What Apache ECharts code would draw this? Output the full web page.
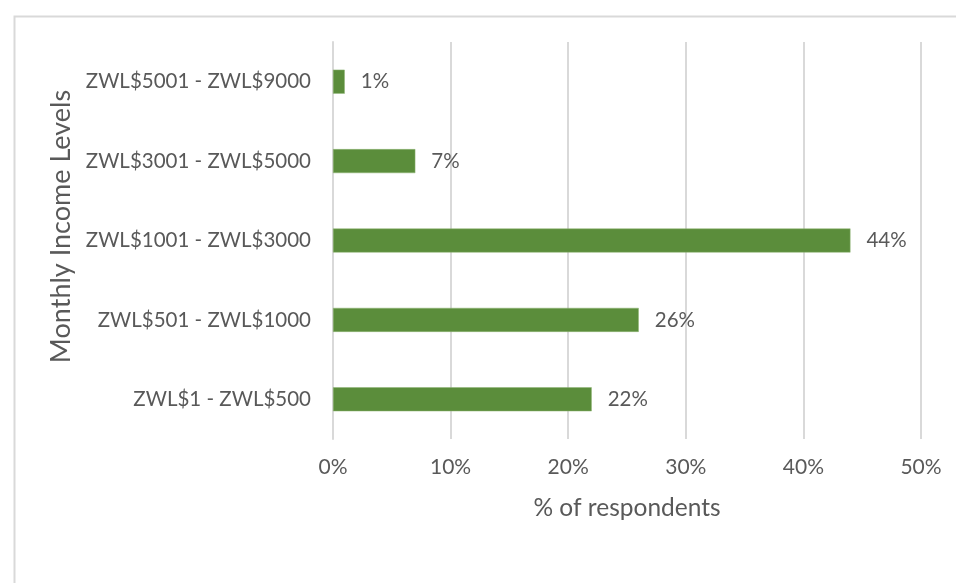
<!DOCTYPE html>
<html>
<head>
<meta charset="utf-8">
<script src="https://cdn.jsdelivr.net/npm/echarts@6/dist/echarts.min.js"></script>
<style>
  html, body { margin: 0; padding: 0; background: #ffffff; }
  #chart { width: 956px; height: 583px; }
</style>
</head>
<body>
<div id="chart"></div>
<script>
// Income bands, bottom to top as drawn on the category axis
const incomeBands = [
  'ZWL$1 - ZWL$500',
  'ZWL$501 - ZWL$1000',
  'ZWL$1001 - ZWL$3000',
  'ZWL$3001 - ZWL$5000',
  'ZWL$5001 - ZWL$9000'
];
// Share of respondents in each band (%)
const respondentShare = [22, 26, 44, 7, 1];
// Value axis range and step (%)
const axisMin = 0;
const axisMax = 50;
const axisStep = 10;

const textColor = '#595959';
const gridColor = '#d9d9d9';
const fontFamily = 'Lato, "Open Sans", sans-serif';

const chart = echarts.init(document.getElementById('chart'), null, { renderer: 'canvas' });

chart.setOption({
  backgroundColor: '#ffffff',
  animation: false,
  graphic: [{
    type: 'rect',
    left: 12,
    top: 14,
    shape: { width: 1000, height: 700 },
    style: { fill: 'none', stroke: '#d9d9d9', lineWidth: 2 },
    silent: true
  }],
  grid: { left: 333, right: 35, top: 42, bottom: 144, containLabel: false },
  xAxis: {
    type: 'value',
    min: axisMin,
    max: axisMax,
    interval: axisStep,
    name: '% of respondents',
    nameLocation: 'middle',
    nameGap: 57,
    nameTextStyle: { color: textColor, fontSize: 24.5, fontFamily: fontFamily },
    axisLine: { show: false },
    axisTick: { show: false },
    axisLabel: {
      color: textColor, fontSize: 21, fontFamily: fontFamily, margin: 18,
      formatter: '{value}%'
    },
    splitLine: { show: true, lineStyle: { color: gridColor, width: 2 } }
  },
  yAxis: {
    type: 'category',
    data: incomeBands,
    name: 'Monthly Income Levels',
    nameLocation: 'middle',
    nameGap: 258,
    nameTextStyle: { color: textColor, fontSize: 27, fontFamily: fontFamily, padding: [0, 0, 0, 28] },
    axisLine: { show: true, lineStyle: { color: gridColor, width: 2 } },
    axisTick: { show: false },
    axisLabel: { color: textColor, fontSize: 20.5, fontFamily: fontFamily, margin: 22 },
    splitLine: { show: false }
  },
  series: [{
    type: 'bar',
    data: respondentShare,
    barWidth: 24,
    itemStyle: { color: '#5b8d3b', borderColor: '#8fb575', borderWidth: 0.5 },
    label: {
      show: true,
      position: 'right',
      distance: 16,
      color: textColor,
      fontSize: 20.5,
      fontFamily: fontFamily,
      formatter: '{c}%'
    }
  }]
});
</script>
</body>
</html>
